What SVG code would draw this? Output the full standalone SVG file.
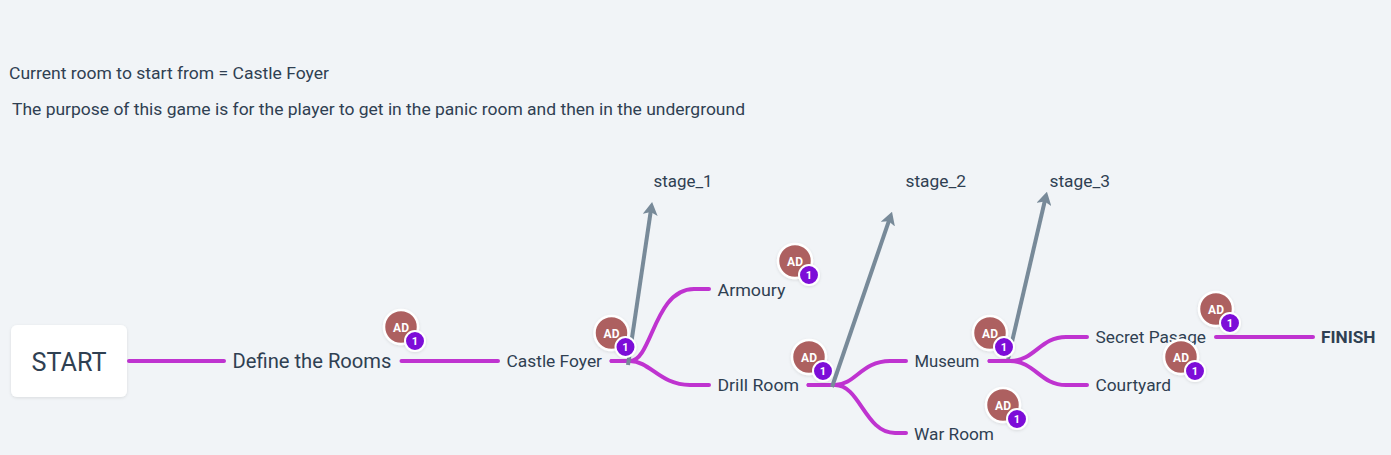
<svg xmlns="http://www.w3.org/2000/svg" width="1391" height="455" viewBox="0 0 1391 455">
<style>
text{font-family:Roboto,"Liberation Sans",sans-serif;fill:#2f4052;font-size:16px}
.c{fill:none;stroke:#bf33d0;stroke-width:4;stroke-linecap:round}
.g{fill:none;stroke:#788a99;stroke-width:4;marker-end:url(#ah)}
.a{fill:#ad6161;stroke:#fff;stroke-width:2.500}
.b{fill:#7d10d8;stroke:#fff;stroke-width:2}
.at{fill:#fff;font-size:12px;font-weight:700;text-anchor:middle}
.bt{fill:#fff;font-size:11px;font-weight:700;text-anchor:middle}
</style>
<defs>
<marker id="ah" viewBox="0 0 13 15" refX="4" refY="7.500" markerWidth="13" markerHeight="15" markerUnits="userSpaceOnUse" orient="auto"><path d="M0 0L13 7.500L0 15L3 7.500Z" fill="#788a99"/></marker>
<filter id="s" x="-20%" y="-20%" width="140%" height="150%"><feDropShadow dx="0" dy="1" stdDeviation="1.500" flood-color="#000" flood-opacity=".1"/></filter>
<g id="badge"><circle class="a" cx="0" cy="0" r="17" filter="url(#s)"/><text class="at" x="0" y="4.500">AD</text><circle class="b" cx="14" cy="14" r="10" filter="url(#s)"/><text class="bt" x="14" y="18">1</text></g>
</defs>
<rect width="1391" height="455" fill="#f1f4f7"/>
<g id="connectors">
<path class="g" d="M1008 359L1044.900 200.500"/>
<path class="c" d="M129 361H224"/>
<path class="c" d="M401.500 361H498"/>
<path class="c" d="M611.500 361H630C652 361 654 289 694 289H709"/>
<path class="c" d="M611.500 361H630C650 361 660 385 690 385H709"/>
<path class="c" d="M808.500 385H835C855 385 862 361 890 361H906"/>
<path class="c" d="M808.500 385H835C860 385 865 433 895 433H906"/>
<path class="c" d="M989.500 361H1010C1035 361 1040 337 1066 337H1087"/>
<path class="c" d="M989.500 361H1010C1035 361 1040 385 1066 385H1087"/>
<path class="c" d="M1216 337H1313"/>
<path class="g" d="M628 365L650.800 210.900"/>
<path class="g" d="M832 387L889.100 220.300"/>
</g>
<text id="note-1" x="9" y="79" textLength="320" lengthAdjust="spacingAndGlyphs">Current room to start from = Castle Foyer</text>
<text id="note-2" x="12" y="115" textLength="733" lengthAdjust="spacingAndGlyphs">The purpose of this game is for the player to get in the panic room and then in the underground</text>
<g id="start"><rect x="11" y="325" width="116" height="72" rx="6" fill="#fff" filter="url(#s)"/><text x="31.500" y="371" style="font-size:26px" textLength="75" lengthAdjust="spacingAndGlyphs">START</text></g>
<g id="define"><text x="232.500" y="368" style="font-size:20px" textLength="159" lengthAdjust="spacingAndGlyphs">Define the Rooms</text><use href="#badge" x="401" y="327"/></g>
<g id="castle-foyer"><text x="506.500" y="367" textLength="95.500" lengthAdjust="spacingAndGlyphs">Castle Foyer</text><use href="#badge" x="611.500" y="333"/></g>
<g id="armoury"><text x="717.500" y="296" textLength="68" lengthAdjust="spacingAndGlyphs">Armoury</text><use href="#badge" x="795" y="261"/></g>
<g id="drill-room"><text x="717.500" y="391" textLength="81.500" lengthAdjust="spacingAndGlyphs">Drill Room</text><use href="#badge" x="809" y="357"/></g>
<g id="museum"><text x="914.500" y="367" textLength="65" lengthAdjust="spacingAndGlyphs">Museum</text><use href="#badge" x="990" y="333"/></g>
<g id="war-room"><text x="914" y="439.500" textLength="80" lengthAdjust="spacingAndGlyphs">War Room</text><use href="#badge" x="1003" y="405"/></g>
<g id="secret-pasage"><text x="1095.500" y="343" textLength="110.500" lengthAdjust="spacingAndGlyphs">Secret Pasage</text><use href="#badge" x="1216" y="309"/></g>
<g id="courtyard"><text x="1095.500" y="391" textLength="75.500" lengthAdjust="spacingAndGlyphs">Courtyard</text><use href="#badge" x="1181" y="357"/></g>
<g id="finish"><text x="1321" y="343" style="font-weight:700" textLength="54.500" lengthAdjust="spacingAndGlyphs">FINISH</text></g>
<text id="stage-1" x="653.500" y="187" textLength="59" lengthAdjust="spacingAndGlyphs">stage_1</text>
<text id="stage-2" x="905.500" y="187" textLength="60.500" lengthAdjust="spacingAndGlyphs">stage_2</text>
<text id="stage-3" x="1049.500" y="187" textLength="60.500" lengthAdjust="spacingAndGlyphs">stage_3</text>
</svg>
